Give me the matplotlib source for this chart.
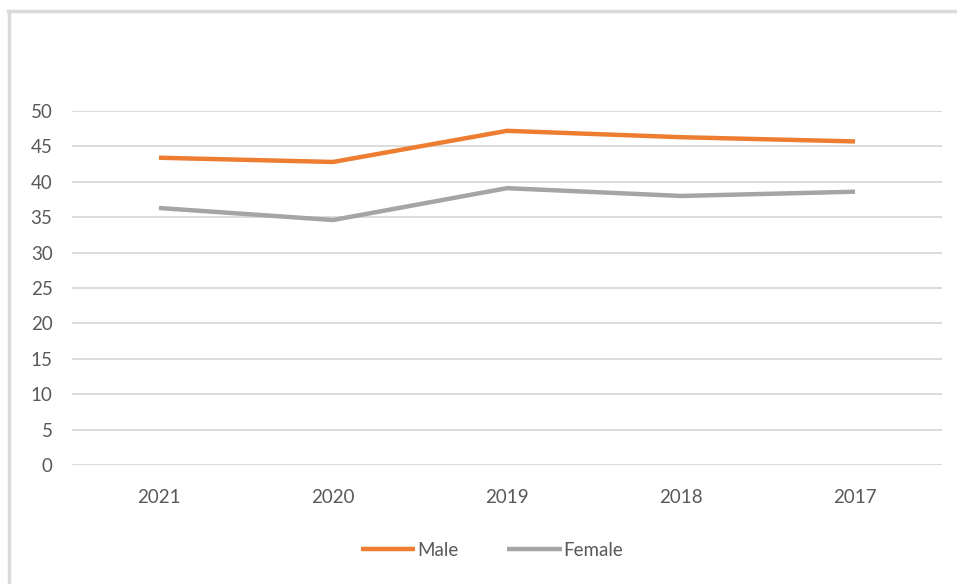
import matplotlib
matplotlib.use("Agg")
import matplotlib.pyplot as plt
from matplotlib.lines import Line2D

years = ["2021", "2020", "2019", "2018", "2017"]
male = [43.4, 42.8, 47.2, 46.3, 45.7]
female = [36.3, 34.6, 39.1, 38.0, 38.6]
y_ticks = [0, 5, 10, 15, 20, 25, 30, 35, 40, 45, 50]

ORANGE = "#ED7D31"
GRAY = "#A5A5A5"
GRID = "#D9D9D9"
TEXT = "#595959"

plt.rcParams["font.family"] = ["Lato", "DejaVu Sans"]

W, H = 957, 584
fig = plt.figure(figsize=(W / 100, H / 100), dpi=100)
fig.patch.set_facecolor("white")

# chart frame (top and left edges)
fig.add_artist(Line2D([8 / W, 1.0], [1 - 11 / H, 1 - 11 / H], color="#DADADA", lw=2.5))
fig.add_artist(Line2D([9 / W, 9 / W], [0, 1 - 11 / H], color="#DADADA", lw=2.5))

left, right = 72 / W, 942 / W
top, bottom = 1 - 111 / H, 1 - 465 / H
ax = fig.add_axes([left, bottom, right - left, top - bottom])

x = list(range(len(years)))
ax.plot(x, male, color=ORANGE, lw=3.2, solid_capstyle="butt", solid_joinstyle="round", label="Male", zorder=3)
ax.plot(x, female, color=GRAY, lw=3.2, solid_capstyle="butt", solid_joinstyle="round", label="Female", zorder=3)

ax.set_xlim(-0.5, len(years) - 0.5)
ax.set_ylim(0, 50)
ax.set_yticks(y_ticks)
ax.set_xticks(x)
ax.set_xticklabels(years)
ax.grid(axis="y", color=GRID, lw=1.3)
ax.set_axisbelow(True)
for s in ax.spines.values():
    s.set_visible(False)
ax.tick_params(axis="both", length=0, colors=TEXT, labelsize=13.5)
ax.tick_params(axis="y", pad=14)
ax.tick_params(axis="x", pad=17)

leg = fig.legend(loc="center", bbox_to_anchor=(492 / W, 1 - 550 / H), ncol=2, frameon=False,
                 fontsize=13.5, handlelength=2.9, handletextpad=0.1, columnspacing=2.6,
                 labelcolor=TEXT)

fig.savefig("out.png", dpi=100, facecolor="white")
